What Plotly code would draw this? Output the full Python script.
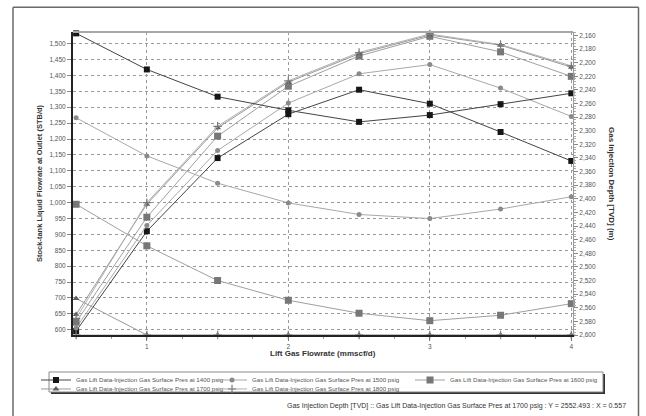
import plotly.graph_objects as go

# Lift gas rate (mmscf/d)
flow = [0.5, 1.0, 1.5, 2.0, 2.5, 3.0, 3.5, 4.0]

# Injection gas surface pressures (psig)
pressures = ["1400", "1500", "1600", "1700", "1800"]

# Stock-tank liquid flowrate at outlet (STB/d)
liq_1400 = [596, 910, 1140, 1278, 1355, 1311, 1222, 1131]
liq_1500 = [606, 928, 1164, 1313, 1405, 1434, 1360, 1271]
liq_1600 = [624, 954, 1209, 1366, 1461, 1523, 1474, 1397]
liq_1700 = [648, 995, 1235, 1379, 1468, 1527, 1495, 1426]
liq_1800 = [636, 1000, 1240, 1383, 1472, 1530, 1497, 1430]

# Gas injection depth, TVD (m)
dep_1400 = [2157, 2210, 2250, 2270, 2287, 2277, 2261, 2245]
dep_1500 = [2281, 2337, 2377, 2406, 2423, 2429, 2415, 2397]
dep_1600 = [2408, 2469, 2520, 2549, 2568, 2579, 2571, 2554]
dep_1700 = [2546.4, 2600, 2600, 2600, 2600, 2600, 2600, 2600]
dep_1800 = [2600, 2600, 2600, 2600, 2600, 2600, 2600, 2600]

liquid = [liq_1400, liq_1500, liq_1600, liq_1700, liq_1800]
depth = [dep_1400, dep_1500, dep_1600, dep_1700, dep_1800]

# one legend box per entry so the entries sit on a 3 + 2 grid
legend_ids = ["legend", "legend2", "legend3", "legend4", "legend5"]
legend_x = [0.0557, 0.3282, 0.6347, 0.0557, 0.3282]      # container fraction
legend_y = [0.1214, 0.1214, 0.1214, 0.0998, 0.0998]

styles = [
    dict(symbol="square", size=6, mcolor="#161616", lcolor="#444444"),
    dict(symbol="circle", size=5, mcolor="#8a8a8a", lcolor="#a8a8a8"),
    dict(symbol="square", size=7, mcolor="#777777", lcolor="#a0a0a0"),
    dict(symbol="triangle-up", size=6, mcolor="#5e5e5e", lcolor="#9a9a9a"),
    dict(symbol="cross-thin", size=6, mcolor="#7a7a7a", lcolor="#b0b0b0"),
]


def make_marker(st):
    return dict(symbol=st["symbol"], size=st["size"], color=st["mcolor"],
                line=dict(color=st["mcolor"], width=1.2 if st["symbol"] == "cross-thin" else 0))


fig = go.Figure()

for p, liq, st, lg in zip(pressures, liquid, styles, legend_ids):
    fig.add_trace(go.Scatter(
        x=flow, y=liq, mode="lines+markers", yaxis="y", legend=lg,
        name=f"Gas Lift Data-Injection Gas Surface Pres at {p} psig",
        legendgroup=p, line=dict(color=st["lcolor"], width=1), marker=make_marker(st),
        cliponaxis=False,
    ))

for p, dep, st in zip(pressures, depth, styles):
    fig.add_trace(go.Scatter(
        x=flow, y=dep, mode="lines+markers", yaxis="y2",
        name=f"Gas Lift Data-Injection Gas Surface Pres at {p} psig",
        legendgroup=p, showlegend=False,
        line=dict(color=st["lcolor"], width=1), marker=make_marker(st),
        cliponaxis=False,
    ))

FONT = "Liberation Sans, Arial, sans-serif"
tick_font = dict(family=FONT, size=6.5, color="#555555")
title_font = dict(family=FONT, size=7.5, color="#333333")
title_font_lg = dict(family=FONT, size=8, color="#333333")
legend_font = dict(family=FONT, size=6.2, color="#555555")

legends = {}
for lg, lx, ly in zip(legend_ids, legend_x, legend_y):
    legends[lg] = dict(
        x=lx, y=ly, xref="container", yref="container",
        orientation="h", xanchor="left", yanchor="top",
        bgcolor="rgba(0,0,0,0)", borderwidth=0, font=legend_font,
        itemwidth=30, tracegroupgap=0,
    )

fig.update_layout(
    width=646, height=416,
    margin=dict(l=73, r=73, t=32, b=81, pad=0),
    paper_bgcolor="white", plot_bgcolor="white",
    font=dict(family=FONT),
    xaxis=dict(
        range=[0.478, 4.012], tickvals=[1, 2, 3, 4], ticktext=["1", "2", "3", "4"],
        showgrid=True, gridcolor="#9a9a9a", griddash="dot", gridwidth=1,
        showline=True, linecolor="#222222", linewidth=2,
        ticks="outside", ticklen=4, tickcolor="#777777", tickfont=tick_font,
        minor=dict(dtick=0.25, tick0=0, ticks="outside", ticklen=2, tickcolor="#999999", showgrid=False),
        zeroline=False,
    ),
    yaxis=dict(
        range=[583.6, 1536.5], dtick=50, tick0=0, tickformat=",d",
        showgrid=True, gridcolor="#9a9a9a", griddash="dot", gridwidth=1,
        showline=True, linecolor="#222222", linewidth=2,
        ticks="outside", ticklen=4, tickcolor="#888888", tickfont=tick_font,
        zeroline=False,
    ),
    yaxis2=dict(
        overlaying="y", side="right",
        range=[2600, 2155], dtick=20, tick0=0, tickformat=",d",
        showgrid=False, showline=True, linecolor="#9a9a9a", linewidth=1,
        ticks="outside", ticklen=4, tickcolor="#888888", tickfont=tick_font,
        minor=dict(dtick=4, ticks="outside", ticklen=2, tickcolor="#aaaaaa"),
        zeroline=False,
    ),
    showlegend=True,
    annotations=[
        dict(text="<b>Stock-tank Liquid Flowrate at Outlet (STB/d)</b>", xref="paper", yref="paper",
             x=-0.067, y=0.5, textangle=-90, showarrow=False, font=title_font,
             xanchor="center", yanchor="middle"),
        dict(text="<b>Gas Injection Depth [TVD] (m)</b>", xref="paper", yref="paper",
             x=1.077, y=0.5, textangle=90, showarrow=False, font=title_font_lg,
             xanchor="center", yanchor="middle"),
        dict(text="<b>Lift Gas Flowrate (mmscf/d)</b>", xref="paper", yref="paper",
             x=0.5, y=-0.061, showarrow=False, font=title_font_lg,
             xanchor="center", yanchor="middle"),
        dict(text="Gas Injection Depth [TVD] :: Gas Lift Data-Injection Gas Surface Pres at 1700 psig : Y = 2552.493 : X = 0.557",
             xref="paper", yref="paper", x=1.11, y=-0.233, showarrow=False,
             font=dict(family=FONT, size=7, color="#333333"),
             xanchor="right", yanchor="middle"),
    ],
    shapes=[
        # outer frame
        dict(type="line", xref="paper", yref="paper", x0=-0.12, x1=-0.12, y0=-0.32, y1=1.082,
             line=dict(color="#6a6a6a", width=1.5)),
        dict(type="line", xref="paper", yref="paper", x0=-0.12, x1=1.131, y0=1.082, y1=1.082,
             line=dict(color="#6a6a6a", width=1.5)),
        dict(type="line", xref="paper", yref="paper", x0=1.131, x1=1.131, y0=-0.32, y1=1.082,
             line=dict(color="#6a6a6a", width=1.5)),
        # plot top border
        dict(type="line", xref="paper", yref="paper", x0=0, x1=1, y0=1, y1=1,
             line=dict(color="#a8a8a8", width=2)),
        # legend box with drop shadow
        dict(type="rect", xref="paper", yref="paper", x0=-0.044, x1=1.064, y0=-0.1947, y1=-0.1287,
             fillcolor="#333333", line=dict(width=0), layer="above"),
        dict(type="rect", xref="paper", yref="paper", x0=-0.048, x1=1.06, y0=-0.1881, y1=-0.1221,
             fillcolor="white", line=dict(color="#8a8a8a", width=1), layer="above"),
    ],
)
fig.update_layout(**legends)

fig.write_html("out.html")
